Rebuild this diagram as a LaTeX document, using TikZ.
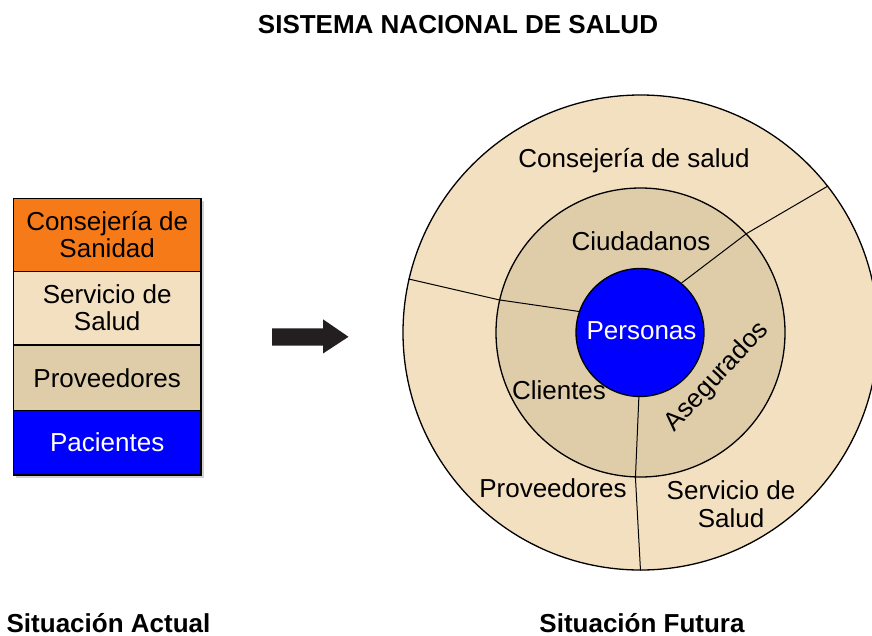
\documentclass[tikz,border=0pt]{standalone}
\usepackage{fontspec}
\setmainfont{Liberation Sans}
\definecolor{beige}{HTML}{F3E0C0}
\definecolor{tan}{HTML}{DFCDAA}
\definecolor{orangebox}{HTML}{F77A18}
\definecolor{bluefill}{HTML}{0000FF}
\definecolor{arrowc}{HTML}{231F20}
\begin{document}
\begin{tikzpicture}[x=1pt,y=-1pt,
  lbl/.style={font=\fontsize{26}{27}\selectfont, inner sep=0, anchor=base},
  bold/.style={font=\fontsize{26}{27}\selectfont\bfseries, inner sep=0, anchor=base},
  ring/.style={circle, draw=black, line width=1.3pt, inner sep=0},
  sepline/.style={line width=1pt},
  layer/.style={draw=black, line width=1.3pt, minimum width=187.7, inner sep=0}]
\useasboundingbox (0,0) rectangle (872,635);
\clip (0,0) rectangle (872,635);

% title
\node[bold] (title) at (458,33) {SISTEMA NACIONAL DE SALUD};

% left stack
\fill[gray!35] (16,201) rectangle (204,478);
\node[layer, fill=orangebox, minimum height=73.4] (b1) at (107.2,235) {};
\node[layer, fill=beige, minimum height=73.3] (b2) at (107.2,308.35) {};
\node[layer, fill=tan, minimum height=65.7] (b3) at (107.2,377.85) {};
\node[layer, fill=bluefill, minimum height=64.3] (b4) at (107.2,442.85) {};
\node[lbl] (b1a) at (107.2,230.7) {Consejería de};
\node[lbl] (b1b) at (107.2,257.7) {Sanidad};
\node[lbl] (b2a) at (107.2,303.3) {Servicio de};
\node[lbl] (b2b) at (107.2,330.7) {Salud};
\node[lbl] (b3a) at (107.2,387.3) {Proveedores};
\node[lbl, text=white] (b4a) at (107.2,451.7) {Pacientes};

% arrow
\fill[arrowc] (272,328.3) -- (323,328.3) -- (323,319.3) -- (348.5,336.8) -- (323,353.5) -- (323,345.5) -- (272,345.5) -- cycle;

% circles
\node[ring, fill=beige, minimum size=475] (O) at (640.5,332.5) {};
\node[ring, fill=tan, minimum size=289] (M) at (640.5,332.5) {};
\node[ring, fill=bluefill, minimum size=128] (P) at (640,332.5) {};

\draw[sepline] (P.50) -- (M.43) -- (O.38);
\draw[sepline] (P.161) -- (M.167) -- (O.167);
\draw[sepline] (P.269) -- (M.268) -- (O.270);

\node[lbl] (t1) at (634,167) {Consejería de salud};
\node[lbl] (t2) at (641,250) {Ciudadanos};
\node[lbl, text=white] (t3) at (641.5,339.3) {Personas};
\node[lbl] (t4) at (559,399) {Clientes};
\node[lbl, anchor=center, rotate=47] (t5) at (717,377) {Asegurados};
\node[lbl] (t6) at (553,497) {Proveedores};
\node[lbl] (t7) at (731,499) {Servicio de};
\node[lbl] (t8) at (731,527) {Salud};

% bottom labels
\node[bold] (sa) at (108.5,632) {Situación Actual};
\node[bold] (sf) at (642,632) {Situación Futura};
\end{tikzpicture}
\end{document}
